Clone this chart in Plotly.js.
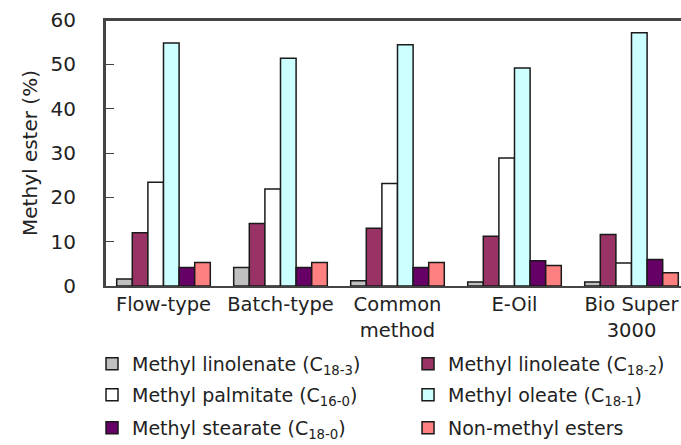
<!DOCTYPE html>
<html>
<head>
<meta charset="utf-8">
<script src="https://cdn.plot.ly/plotly-3.0.1.min.js"></script>
<style>
html,body{margin:0;padding:0;background:#fff;overflow:hidden;}
#wrap{position:relative;width:690px;height:445px;}
#chart{width:690px;height:445px;}
#frame{position:absolute;left:104px;top:19px;width:590px;height:268px;box-sizing:border-box;
  border-top:2px solid #444;border-left:2px solid #444;pointer-events:none;}
</style>
</head>
<body>
<div id="wrap">
<div id="chart"></div>
<div id="frame"></div>
</div>
<script>
// Categories (x-axis tick labels)
const categories = ["Flow-type", "Batch-type", "Common<br>method", "E-Oil", "Bio Super<br>3000"];

// Series values (Methyl ester, %)
const linolenate = [1.6, 4.2, 1.2, 0.9, 0.9];
const linoleate  = [12.0, 14.1, 13.0, 11.2, 11.6];
const palmitate  = [23.4, 21.9, 23.1, 28.9, 5.2];
const oleate     = [54.8, 51.4, 54.4, 49.2, 57.1];
const stearate   = [4.2, 4.2, 4.2, 5.7, 6.0];
const nonMethyl  = [5.3, 5.3, 5.3, 4.6, 3.0];

// Series names (legend labels)
const seriesNames = [
  "Methyl linolenate (C<sub>18-3</sub>)",
  "Methyl linoleate (C<sub>18-2</sub>)",
  "Methyl palmitate (C<sub>16-0</sub>)",
  "Methyl oleate (C<sub>18-1</sub>)",
  "Methyl stearate (C<sub>18-0</sub>)",
  "Non-methyl esters"
];

// Y-axis ticks
const yTicks = [0, 10, 20, 30, 40, 50, 60];

const seriesValues = [linolenate, linoleate, palmitate, oleate, stearate, nonMethyl];
const seriesColors = ["#c0c0c0", "#993366", "#ffffff", "#ccffff", "#660066", "#ff8080"];
const legendIds = ["legend", "legend2", "legend3", "legend4", "legend5", "legend6"];
// legend placement (paper coords): two columns, three rows
const legendX = [-0.0222, 0.518];
const legendY = [-0.2932, -0.4098, -0.5338];

const FONT = "DejaVu Sans, sans-serif";
const TXT = "#222";

const traces = seriesNames.map((name, i) => ({
  type: "bar",
  name: name,
  x: categories,
  y: seriesValues[i],
  legend: legendIds[i],
  marker: {color: seriesColors[i], line: {color: "#1a1a1a", width: 1.5}}
}));

const layout = {
  width: 690,
  height: 445,
  margin: {l: 105, r: 0, t: 20, b: 159, autoexpand: false},
  barmode: "group",
  bargap: 0.2,
  bargroupgap: 0,
  showlegend: true,
  xaxis: {
    type: "category",
    range: [-0.5, 4.5],
    showline: true,
    mirror: true,
    linecolor: "#444",
    linewidth: 2,
    gridcolor: "rgba(0,0,0,0)",
    tickfont: {family: FONT, size: 19.5, color: TXT}
  },
  yaxis: {
    range: [0, 60],
    tickvals: yTicks,
    showline: true,
    linecolor: "#444",
    linewidth: 2,
    ticks: "inside",
    ticklen: 9,
    gridcolor: "rgba(0,0,0,0)",
    zeroline: false,
    tickfont: {family: FONT, size: 20, color: TXT},
    ticklabelstandoff: 23,
    title: {text: "Methyl ester (%)", font: {family: FONT, size: 20, color: TXT}, standoff: 8}
  }
};

legendIds.forEach((id, i) => {
  layout[id] = {
    x: legendX[i % 2],
    xanchor: "left",
    y: legendY[Math.floor(i / 2)],
    yanchor: "middle",
    font: {family: FONT, size: 19, color: TXT},
    bgcolor: "rgba(0,0,0,0)",
    borderwidth: 0
  };
});

Plotly.newPlot("chart", traces, layout, {staticPlot: true, displayModeBar: false});
</script>
</body>
</html>
